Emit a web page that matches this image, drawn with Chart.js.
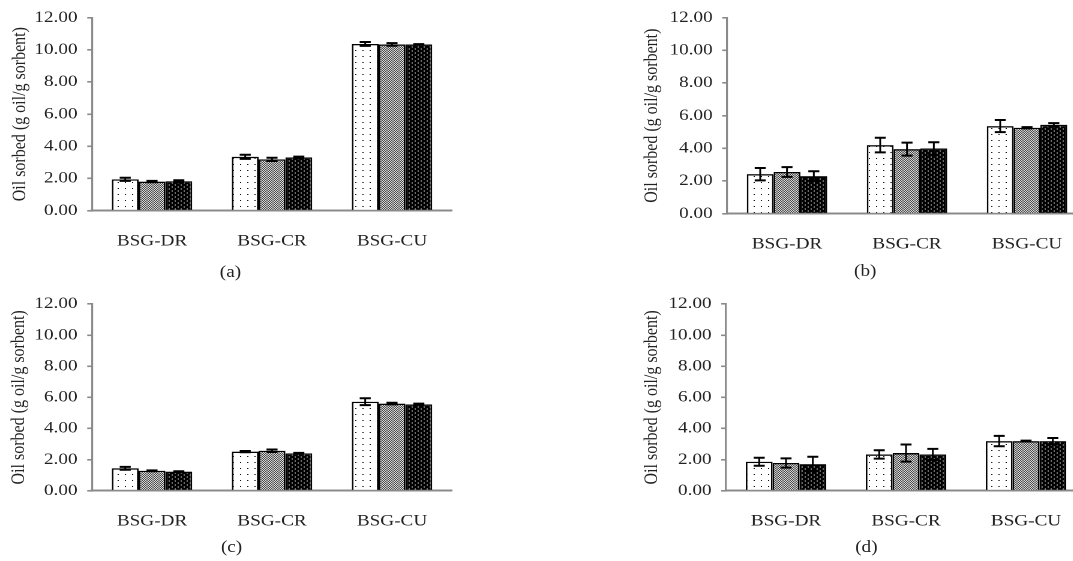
<!DOCTYPE html>
<html>
<head>
<meta charset="utf-8">
<title>Oil sorbed</title>
<script src="https://cdn.jsdelivr.net/npm/chart.js@4.4.1/dist/chart.umd.min.js"></script>
<style>
html, body { margin: 0; padding: 0; background: #fff; width: 1073px; height: 561px; overflow: hidden; }
/* the source figure is stretched sideways, so the whole figure is drawn narrow and scaled */
#fig { position: absolute; left: 0; top: 0; width: 894px; height: 561px; transform: scaleX(1.2); transform-origin: 0 0; }
#fig canvas { position: absolute; }
.cap { position: absolute; font-family: 'Liberation Serif', 'Times New Roman', serif; font-size: 16px; color: #222;
       transform: translate(-50%, -50%); white-space: nowrap; }
</style>
</head>
<body>
<div id="fig">
  <canvas id="chartA" width="390" height="285" style="left:0px;top:0px"></canvas>
  <canvas id="chartB" width="390" height="285" style="left:530px;top:0px"></canvas>
  <canvas id="chartC" width="390" height="281" style="left:0px;top:280px"></canvas>
  <canvas id="chartD" width="390" height="281" style="left:530px;top:280px"></canvas>
  <div class="cap" style="left:192px;top:272px">(a)</div>
  <div class="cap" style="left:721px;top:271px">(b)</div>
  <div class="cap" style="left:193px;top:547px">(c)</div>
  <div class="cap" style="left:722px;top:547px">(d)</div>
</div>
<script>
var categories = ['BSG-DR', 'BSG-CR', 'BSG-CU'];
var yTicks = [0, 2, 4, 6, 8, 10, 12];
var yTitle = 'Oil sorbed (g oil/g sorbent)';

// (a)
var a1 = [1.95, 3.35, 10.36];
var a2 = [1.81, 3.19, 10.33];
var a3 = [1.83, 3.31, 10.33];
var a1Err = [0.10, 0.13, 0.12];
var a2Err = [0.04, 0.10, 0.08];
var a3Err = [0.06, 0.05, 0.02];

// (b)
var b1 = [2.42, 4.20, 5.36];
var b2 = [2.55, 3.95, 5.26];
var b3 = [2.30, 3.99, 5.44];
var b1Err = [0.38, 0.45, 0.37];
var b2Err = [0.30, 0.40, 0.04];
var b3Err = [0.30, 0.38, 0.10];

// (c)
var c1 = [1.44, 2.51, 5.72];
var c2 = [1.28, 2.57, 5.60];
var c3 = [1.23, 2.40, 5.55];
var c1Err = [0.09, 0.04, 0.22];
var c2Err = [0.03, 0.08, 0.05];
var c3Err = [0.02, 0.03, 0.05];

// (d)
var d1 = [1.86, 2.33, 3.19];
var d2 = [1.78, 2.42, 3.19];
var d3 = [1.71, 2.33, 3.19];
var d1Err = [0.26, 0.27, 0.33];
var d2Err = [0.30, 0.55, 0.03];
var d3Err = [0.47, 0.36, 0.20];

var S = 1.2;   // horizontal stretch of the figure
var serif = "'Liberation Serif', 'Times New Roman', serif";
var axisGray = '#8a8a8a';

function tile(w, h, bg, fg, dots) {
  var c = document.createElement('canvas');
  c.width = w; c.height = h;
  var g = c.getContext('2d');
  g.fillStyle = bg; g.fillRect(0, 0, w, h);
  g.fillStyle = fg;
  dots.forEach(function (d) { g.fillRect(d[0], d[1], d[2] || 1, d[3] || 1); });
  return c;
}

// tiles are drawn at double resolution (devicePixelRatio 2), so one tile pixel is half a css pixel
function patterns(ctx) {
  var p = [
    ctx.createPattern(tile(12, 12, '#fff', '#111', [[4, 4, 2, 2]]), 'repeat'),
    ctx.createPattern(tile(4, 4, '#d8d8d8', '#4a4a4a', [[0, 0, 2, 2], [2, 2, 2, 2]]), 'repeat'),
    ctx.createPattern(tile(10, 8, '#000', '#d0d0d0', [[1, 1, 2, 2], [6, 5, 2, 2]]), 'repeat')
  ];
  p.forEach(function (pt) { pt.setTransform(new DOMMatrix([0.5, 0, 0, 0.5, 0, 0])); });
  return p;
}

var errorBars = {
  id: 'errorBars',
  afterDatasetsDraw: function (chart) {
    var ctx = chart.ctx, y = chart.scales.y;
    ctx.save();
    ctx.strokeStyle = '#000';
    chart.data.datasets.forEach(function (ds, i) {
      chart.getDatasetMeta(i).data.forEach(function (bar, j) {
        var v = ds.data[j], e = ds.errors[j];
        var top = y.getPixelForValue(v + e), bot = y.getPixelForValue(v - e);
        var x = bar.x, hw = 4.6;
        ctx.lineWidth = 1.5;
        ctx.beginPath(); ctx.moveTo(x, top); ctx.lineTo(x, bot); ctx.stroke();
        ctx.lineWidth = 2;
        ctx.beginPath();
        ctx.moveTo(x - hw, top); ctx.lineTo(x + hw, top);
        ctx.moveTo(x - hw, bot); ctx.lineTo(x + hw, bot);
        ctx.stroke();
      });
    });
    ctx.restore();
  }
};

// box: where each panel sits in the 1073x561 picture
function makeChart(id, series, errs, box) {
  var canvas = document.getElementById(id);
  var W = canvas.width, H = canvas.height;   // css size, read before Chart.js rescales the canvas
  var ctx = canvas.getContext('2d');
  var pats = patterns(ctx);
  var plotW = 360 / S;
  var yWidth = box.axisX / S - box.left;
  var titleFont = 16;

  new Chart(ctx, {
    type: 'bar',
    data: {
      labels: categories,
      datasets: series.map(function (s, i) {
        return {
          label: 'Series ' + (i + 1),
          data: s,
          errors: errs[i],
          backgroundColor: pats[i],
          borderColor: '#000',
          borderWidth: 1.4,
          barPercentage: 1,
          categoryPercentage: 0.67
        };
      })
    },
    options: {
      responsive: false,
      animation: false,
      devicePixelRatio: 2,
      layout: { padding: { top: box.top - box.canvasTop, left: 0, bottom: 0, right: W - yWidth - plotW } },
      plugins: { legend: { display: false }, tooltip: { enabled: false } },
      scales: {
        x: {
          grid: { display: false },
          border: { display: true, color: axisGray, width: 2 },
          ticks: { padding: 13, color: '#222', font: { family: serif, size: 16 } },
          afterFit: function (s) { s.height = H - (box.bottom - box.canvasTop); }
        },
        y: {
          min: 0, max: 12,
          afterBuildTicks: function (s) { s.ticks = yTicks.map(function (v) { return { value: v }; }); },
          ticks: { padding: 8, color: '#222', font: { family: serif, size: 16 },
                   callback: function (v) { return Number(v).toFixed(2); } },
          grid: { drawOnChartArea: false, drawTicks: true, tickLength: 4, color: axisGray, lineWidth: 1.6 },
          border: { color: axisGray, width: 1.6 },
          title: { display: true, text: yTitle, color: '#222', font: { family: serif, size: titleFont },
                   padding: { top: box.titleX / S - box.left - titleFont * 0.6, bottom: 0 } },
          afterFit: function (s) { s.width = yWidth; }
        }
      }
    },
    plugins: [errorBars]
  });
}

makeChart('chartA', [a1, a2, a3], [a1Err, a2Err, a3Err], { left: 0, canvasTop: 0, axisX: 92, top: 17.5, bottom: 210.7, titleX: 20 });
makeChart('chartB', [b1, b2, b3], [b1Err, b2Err, b3Err], { left: 530, canvasTop: 0, axisX: 727, top: 17.3, bottom: 213.7, titleX: 652 });
makeChart('chartC', [c1, c2, c3], [c1Err, c2Err, c3Err], { left: 0, canvasTop: 280, axisX: 92, top: 304, bottom: 490.7, titleX: 19 });
makeChart('chartD', [d1, d2, d3], [d1Err, d2Err, d3Err], { left: 530, canvasTop: 280, axisX: 726, top: 304, bottom: 490.7, titleX: 652 });
</script>
</body>
</html>
